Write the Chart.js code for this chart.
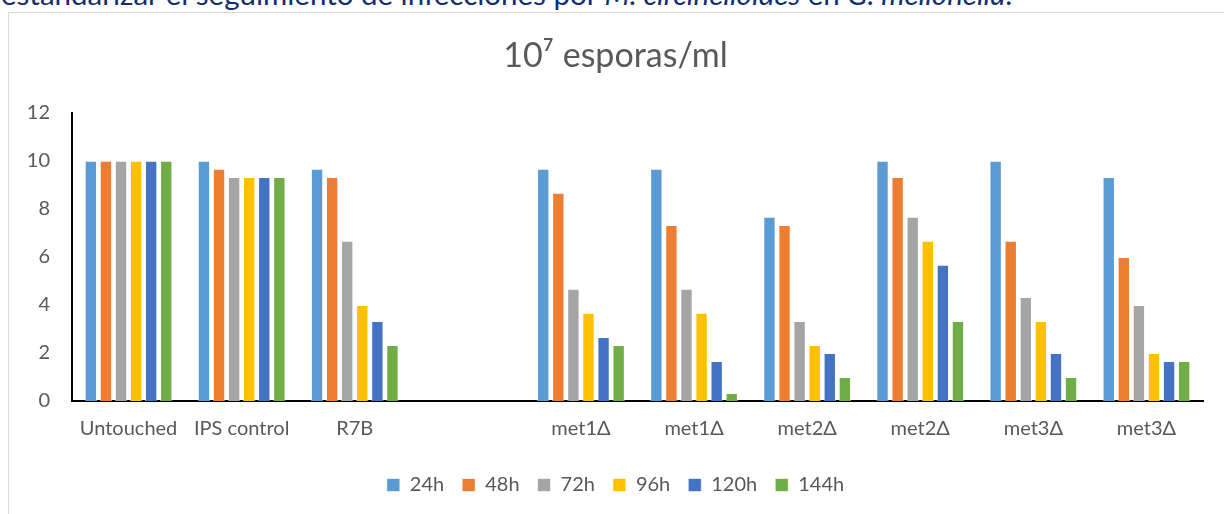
<!DOCTYPE html>
<html><head><meta charset="utf-8">
<script src="https://cdn.jsdelivr.net/npm/chart.js@4/dist/chart.umd.min.js"></script>
<style>
html,body{margin:0;padding:0;background:#fff;width:1224px;height:514px;overflow:hidden;position:relative;font-family:Lato,"Liberation Sans",sans-serif;}
#top{position:absolute;left:1px;top:-21px;font-size:29.5px;line-height:30px;color:#112d72;white-space:nowrap;font-family:Lato,"Liberation Sans",sans-serif;}
#frame{position:absolute;left:8px;top:12px;width:1240px;height:540px;border:1px solid #d9d9d9;}
#wrap{position:absolute;left:0;top:0;width:1224px;height:514px;}
</style></head><body>
<div id="top">estandarizar el seguimiento de infecciones por <i>M. circinelloides</i> en <i>G. mellonella</i>.</div>
<div id="frame"></div>
<div id="wrap"><canvas id="c" width="1224" height="514"></canvas></div>
<script>
const categories = ["Untouched","IPS control","R7B","","met1Δ","met1Δ","met2Δ","met2Δ","met3Δ","met3Δ"];
const seriesNames = ["24h","48h","72h","96h","120h","144h"];
const s24  = [10, 10,   9.67, null, 9.67, 9.67, 7.67, 10,   10,   9.33];
const s48  = [10, 9.67, 9.33, null, 8.67, 7.33, 7.33, 9.33, 6.67, 6];
const s72  = [10, 9.33, 6.67, null, 4.67, 4.67, 3.33, 7.67, 4.33, 4];
const s96  = [10, 9.33, 4,    null, 3.67, 3.67, 2.33, 6.67, 3.33, 2];
const s120 = [10, 9.33, 3.33, null, 2.67, 1.67, 2,    5.67, 2,    1.67];
const s144 = [10, 9.33, 2.33, null, 2.33, 0.33, 1,    3.33, 1,    1.67];
const colors = ["#5b9bd5","#ed7d31","#a5a5a5","#ffc000","#4472c4","#70ad47"];
const yTicks = [0,2,4,6,8,10,12];
const allSeries = [s24,s48,s72,s96,s120,s144];
const font = "Lato, 'Liberation Sans', sans-serif";
new Chart(document.getElementById('c'), {
  type: 'bar',
  data: {
    labels: categories,
    datasets: allSeries.map((d,i)=>({label: seriesNames[i], data: d, backgroundColor: colors[i], borderColor: 'rgba(255,255,255,0.6)', borderWidth: 1, categoryPercentage: 0.8, barPercentage: 0.82}))
  },
  options: {
    responsive: false, animation: false,
    layout: {padding: {left: 28, right: 21, top: 15, bottom: 9}},
    plugins: {
      title: {display: true, text: "10⁷ esporas/ml", color: '#595959', font: {family: font, size: 34, weight: 'normal'}, padding: {top: 21, bottom: 36}},
      legend: {position: 'bottom', labels: {color: '#595959', font: {family: font, size: 20}, boxWidth: 13, boxHeight: 13, padding: 18}},
      tooltip: {enabled: false}
    },
    scales: {
      x: {grid: {display: false, drawTicks: false}, border: {display: true, color: '#000', width: 2},
          ticks: {color: '#595959', font: {family: font, size: 20}, padding: 16, autoSkip: false, maxRotation: 0}},
      y: {min: 0, max: 12, afterBuildTicks: ax => { ax.ticks = yTicks.map(v=>({value:v})); },
          afterFit: s => { s.width = 44; },
          grid: {display: false, drawTicks: false}, border: {display: true, color: '#000', width: 2},
          ticks: {color: '#595959', font: {family: font, size: 20}, padding: 22}}
    }
  }
});
</script>
</body></html>
